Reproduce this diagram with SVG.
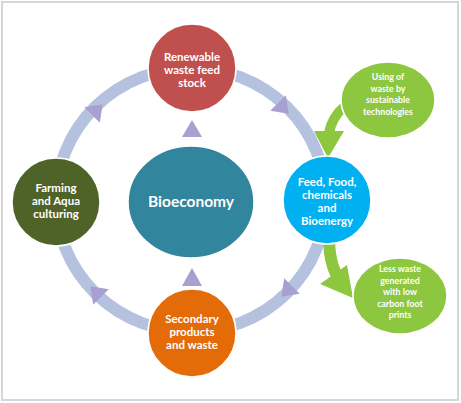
<svg xmlns="http://www.w3.org/2000/svg" width="461" height="403" viewBox="0 0 461 403">
<style>
.t{font-family:Lato,"Open Sans","Liberation Sans",Arial,sans-serif;font-weight:700;fill:#ffffff;text-anchor:middle}
.m{font-size:11.5px}
.s{font-size:8.8px}
.node{stroke:#ffffff;stroke-width:1.5}
.tri{fill:#a8a0d0}
.green{fill:#8dc63f}
</style>
<defs>
<path id="ah" d="M 8 0 L -7 -11 L -7 11 Z"/>
</defs>
<rect x="2" y="2" width="456" height="398" fill="#ffffff" stroke="#d6d6d6" stroke-width="2"/>
<g id="connectors">
<ellipse cx="191" cy="200" rx="135" ry="132" fill="none" stroke="#b4c2e0" stroke-width="12"/>
<use href="#ah" class="tri" transform="translate(283,108) rotate(45)"/>
<use href="#ah" class="tri" transform="translate(287,291) rotate(135)"/>
<use href="#ah" class="tri" transform="translate(96,292) rotate(-135)"/>
<use href="#ah" class="tri" transform="translate(97,110) rotate(-45)"/>
<polygon class="tri" points="192,120 182,137 202,137"/>
<polygon class="tri" points="192,268 182,286 202,286"/>
<path d="M 344 107 Q 332 117 329 133" fill="none" stroke="#8dc63f" stroke-width="10"/>
<polygon class="green" points="314,131 344,131 328,158"/>
<path d="M 329 242 Q 330 262 336 274" fill="none" stroke="#8dc63f" stroke-width="12"/>
<polygon class="green" points="320,284 347,265 353,298"/>
</g>
<g id="renewable">
<circle class="node" cx="192" cy="68" r="44" fill="#c0504d"/>
<text class="t m" x="192" y="61">Renewable</text>
<text class="t m" x="192" y="74">waste feed</text>
<text class="t m" x="192" y="87">stock</text>
</g>
<g id="using">
<ellipse class="node" cx="388" cy="100" rx="47" ry="38" fill="#8dc63f"/>
<text class="t s" x="388" y="80">Using of</text>
<text class="t s" x="388" y="91.5">waste by</text>
<text class="t s" x="388" y="103">sustainable</text>
<text class="t s" x="388" y="114.5">technologies</text>
</g>
<g id="feed">
<circle class="node" cx="327" cy="200" r="44" fill="#00b0f0"/>
<text class="t m" x="327" y="185.5">Feed, Food,</text>
<text class="t m" x="327" y="198.5">chemicals</text>
<text class="t m" x="327" y="211.5">and</text>
<text class="t m" x="327" y="224.5">Bioenergy</text>
</g>
<g id="less">
<ellipse class="node" cx="400" cy="296" rx="47" ry="38" fill="#8dc63f"/>
<text class="t s" x="400" y="272">Less waste</text>
<text class="t s" x="400" y="283.5">generated</text>
<text class="t s" x="400" y="295">with low</text>
<text class="t s" x="400" y="306.5">carbon foot</text>
<text class="t s" x="400" y="318">prints</text>
</g>
<g id="farming">
<circle class="node" cx="56" cy="202" r="44" fill="#4f6228"/>
<text class="t m" x="56" y="192">Farming</text>
<text class="t m" x="56" y="205">and Aqua</text>
<text class="t m" x="56" y="218">culturing</text>
</g>
<g id="bioeconomy">
<ellipse class="node" cx="191" cy="202" rx="63" ry="56" fill="#31859c"/>
<text class="t" x="191" y="207" style="font-size:15.5px">Bioeconomy</text>
</g>
<g id="secondary">
<circle class="node" cx="192" cy="333" r="44" fill="#e36c09"/>
<text class="t m" x="192" y="323">Secondary</text>
<text class="t m" x="192" y="336">products</text>
<text class="t m" x="192" y="349">and waste</text>
</g>
</svg>
